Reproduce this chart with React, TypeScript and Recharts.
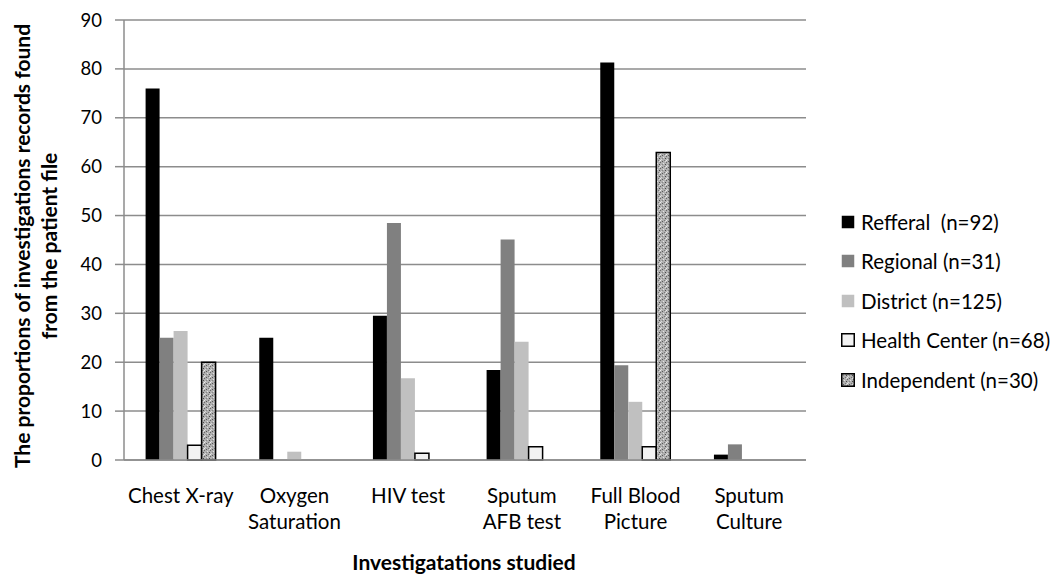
import React from 'react';
import { BarChart, Bar, XAxis, YAxis, CartesianGrid } from 'recharts';

const categories = ['Chest X-ray', 'Oxygen\nSaturation', 'HIV test', 'Sputum\nAFB test', 'Full Blood\nPicture', 'Sputum\nCulture'];
const refferal = [76, 25, 29.5, 18.4, 81.3, 1.1];
const regional = [25, 0, 48.5, 45.1, 19.4, 3.2];
const district = [26.4, 1.7, 16.7, 24.2, 11.9, 0];
const healthCenter = [3, 0, 1.4, 2.7, 2.7, 0];
const independent = [20, 0, 0, 0, 62.9, 0];
const yTicks = [0, 10, 20, 30, 40, 50, 60, 70, 80, 90];

const seriesKeys = ['refferal', 'regional', 'district', 'healthCenter', 'independent'];
const seriesNames = ['Refferal  (n=92)', 'Regional (n=31)', 'District (n=125)', 'Health Center (n=68)', 'Independent (n=30)'];
const seriesFills = ['#000000', '#808080', '#c0c0c0', '#f2f2f2', 'url(#granite)'];
const seriesStrokes = ['none', 'none', 'none', '#000000', '#000000'];

const data = categories.map((c, i) => ({
  name: c,
  refferal: refferal[i],
  regional: regional[i],
  district: district[i],
  healthCenter: healthCenter[i],
  independent: independent[i],
}));

const FONT = 'Lato, "Open Sans", sans-serif';

const GranitePattern = ({ id }: { id: string }) => (
  <pattern id={id} width="6" height="6" patternUnits="userSpaceOnUse">
    <rect width="6" height="6" fill="#b0b0b0" />
    <rect x="0" y="0" width="1" height="1" fill="#666666" />
    <rect x="3" y="1" width="1" height="1" fill="#e2e2e2" />
    <rect x="5" y="2" width="1" height="1" fill="#4a4a4a" />
    <rect x="1" y="3" width="1" height="1" fill="#d8d8d8" />
    <rect x="4" y="4" width="1" height="1" fill="#777777" />
    <rect x="2" y="5" width="1" height="1" fill="#575757" />
    <rect x="0" y="4" width="1" height="1" fill="#ececec" />
    <rect x="2" y="2" width="1" height="1" fill="#888888" />
    <rect x="5" y="5" width="1" height="1" fill="#dadada" />
  </pattern>
);

const XTick = (props: any) => {
  const { x, y, payload } = props;
  const lines = String(payload.value).split('\n');
  return (
    <g>
      {lines.map((l: string, i: number) => (
        <text key={i} x={x} y={y + 43 + i * 26} textAnchor="middle" fill="#000" fontSize={20.5} fontFamily={FONT}>
          {l}
        </text>
      ))}
    </g>
  );
};

const XTitle = () => (
  <text x={464} y={570} textAnchor="middle" fontWeight="bold" fontSize={21} fontFamily={FONT} fill="#000">
    Investigatations studied
  </text>
);

const YTitle = () => (
  <g>
    <text x={30} y={246} transform="rotate(-90 30 246)" textAnchor="middle" fontWeight="bold" fontSize={21} fontFamily={FONT} fill="#000">
      The proportions of investigations records found
    </text>
    <text x={57} y={246} transform="rotate(-90 57 246)" textAnchor="middle" fontWeight="bold" fontSize={21} fontFamily={FONT} fill="#000">
      from the patient file
    </text>
  </g>
);

export default function App() {
  return (
    <div style={{ position: 'absolute', left: 0, top: 0, width: 1059, height: 575, overflow: 'hidden', background: '#fff' }}>
      <BarChart
        width={1059}
        height={575}
        data={data}
        margin={{ top: 20, right: 253, bottom: 0, left: 0 }}
        barCategoryGap="19%"
        barGap={0}
        style={{ overflow: 'visible' }}
      >
        <defs>
          <GranitePattern id="granite" />
        </defs>
        <CartesianGrid horizontal vertical={false} stroke="#8c8c8c" strokeWidth={1.5} />
        <XAxis
          dataKey="name"
          height={115}
          tickLine={false}
          tickSize={0}
          tickMargin={0}
          interval={0}
          axisLine={{ stroke: '#8c8c8c', strokeWidth: 1.5 }}
          tick={<XTick />}
          label={{ content: () => <XTitle /> }}
        />
        <YAxis
          width={124}
          domain={[0, 90]}
          ticks={yTicks}
          interval={0}
          tickSize={9}
          tickMargin={13}
          tickLine={{ stroke: '#8c8c8c', strokeWidth: 1.5 }}
          axisLine={{ stroke: '#8c8c8c', strokeWidth: 1.5 }}
          tick={{ fill: '#000', fontSize: 18.5, fontFamily: FONT }}
          label={{ content: () => <YTitle /> }}
        />
        {seriesKeys.map((k, i) => (
          <Bar
            key={k}
            dataKey={k}
            name={seriesNames[i]}
            fill={seriesFills[i]}
            stroke={seriesStrokes[i]}
            strokeWidth={seriesStrokes[i] === 'none' ? 0 : 1.5}
            isAnimationActive={false}
          />
        ))}
      </BarChart>
      <div style={{ position: 'absolute', left: 841, top: 202, fontFamily: FONT, fontSize: 20.5, color: '#000' }}>
        {seriesNames.map((n, i) => (
          <div key={n} style={{ display: 'flex', alignItems: 'center', height: 39.5, whiteSpace: 'pre' }}>
            <svg width={14} height={14} style={{ marginRight: 6, flex: 'none' }}>
              <defs>
                <GranitePattern id={`legend-granite-${i}`} />
              </defs>
              <rect
                x={0.75}
                y={0.75}
                width={12.5}
                height={12.5}
                fill={seriesFills[i].startsWith('url') ? `url(#legend-granite-${i})` : seriesFills[i]}
                stroke={seriesStrokes[i] === 'none' ? 'none' : '#000'}
                strokeWidth={1.5}
              />
            </svg>
            <span>{n}</span>
          </div>
        ))}
      </div>
    </div>
  );
}
